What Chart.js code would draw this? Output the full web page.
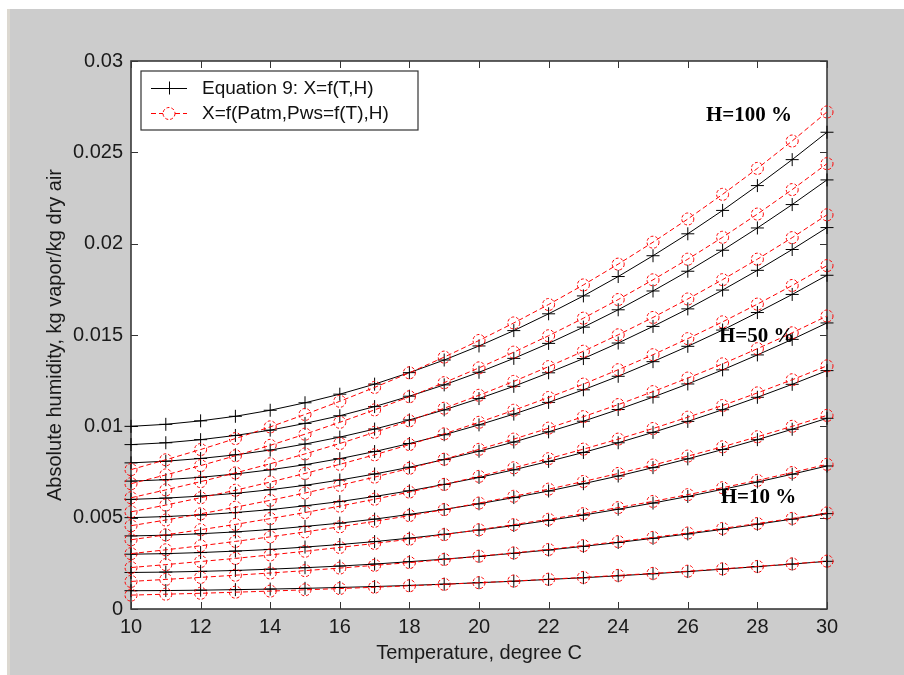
<!DOCTYPE html>
<html>
<head>
<meta charset="utf-8">
<script src="https://cdn.jsdelivr.net/npm/chart.js@4.4.1/dist/chart.umd.min.js"></script>
<style>
html,body{margin:0;padding:0;background:#ffffff;}
canvas{display:block;}
</style>
</head>
<body>
<canvas id="c" width="904" height="675"></canvas>
<script>
// ---- Data ----
const temperatures = [10,11,12,13,14,15,16,17,18,19,20,21,22,23,24,25,26,27,28,29,30];
const humidityLevels = [10,20,30,40,50,60,70,80,90,100];

// Equation 9: X=f(T,H)  (black, plus markers)
const eq9_H10  = [0.00100,0.00101,0.00103,0.00106,0.00109,0.00113,0.00118,0.00123,0.00129,0.00136,0.00144,0.00152,0.00162,0.00171,0.00182,0.00193,0.00205,0.00218,0.00232,0.00246,0.00261];
const eq9_H20  = [0.00200,0.00202,0.00206,0.00211,0.00218,0.00226,0.00235,0.00246,0.00259,0.00273,0.00288,0.00305,0.00323,0.00343,0.00364,0.00387,0.00411,0.00436,0.00464,0.00492,0.00522];
const eq9_H30  = [0.00300,0.00303,0.00309,0.00317,0.00326,0.00339,0.00353,0.00369,0.00388,0.00409,0.00432,0.00457,0.00485,0.00514,0.00546,0.00580,0.00616,0.00655,0.00695,0.00738,0.00783];
const eq9_H40  = [0.00400,0.00404,0.00412,0.00422,0.00435,0.00452,0.00470,0.00492,0.00518,0.00545,0.00576,0.00610,0.00646,0.00686,0.00728,0.00774,0.00822,0.00873,0.00927,0.00984,0.01044];
const eq9_H50  = [0.00500,0.00506,0.00515,0.00528,0.00544,0.00565,0.00588,0.00616,0.00647,0.00682,0.00720,0.00762,0.00808,0.00857,0.00910,0.00967,0.01027,0.01091,0.01159,0.01230,0.01305];
const eq9_H60  = [0.00600,0.00607,0.00618,0.00633,0.00653,0.00677,0.00706,0.00739,0.00776,0.00818,0.00864,0.00914,0.00970,0.01028,0.01092,0.01160,0.01232,0.01309,0.01391,0.01476,0.01566];
const eq9_H70  = [0.00700,0.00708,0.00721,0.00739,0.00762,0.00790,0.00823,0.00862,0.00906,0.00954,0.01008,0.01067,0.01131,0.01200,0.01274,0.01354,0.01438,0.01527,0.01623,0.01722,0.01827];
const eq9_H80  = [0.00800,0.00809,0.00824,0.00844,0.00870,0.00903,0.00941,0.00985,0.01035,0.01090,0.01152,0.01219,0.01293,0.01371,0.01456,0.01547,0.01643,0.01746,0.01854,0.01968,0.02088];
const eq9_H90  = [0.00900,0.00910,0.00927,0.00950,0.00979,0.01016,0.01058,0.01108,0.01165,0.01227,0.01296,0.01372,0.01454,0.01543,0.01638,0.01741,0.01849,0.01964,0.02086,0.02214,0.02349];
const eq9_H100 = [0.01000,0.01011,0.01030,0.01055,0.01088,0.01129,0.01176,0.01231,0.01294,0.01363,0.01440,0.01524,0.01616,0.01714,0.01820,0.01934,0.02054,0.02182,0.02318,0.02460,0.02610];

// X=f(Patm,Pws=f(T),H)  (red dashed, circle markers)
const psy_H10  = [0.00076,0.00081,0.00086,0.00092,0.00098,0.00105,0.00112,0.00119,0.00127,0.00135,0.00144,0.00153,0.00163,0.00173,0.00184,0.00195,0.00207,0.00220,0.00233,0.00247,0.00262];
const psy_H20  = [0.00151,0.00162,0.00173,0.00185,0.00197,0.00210,0.00224,0.00239,0.00254,0.00271,0.00289,0.00307,0.00326,0.00347,0.00369,0.00392,0.00416,0.00441,0.00468,0.00496,0.00526];
const psy_H30  = [0.00227,0.00243,0.00260,0.00277,0.00296,0.00316,0.00337,0.00359,0.00382,0.00407,0.00434,0.00462,0.00491,0.00522,0.00555,0.00589,0.00626,0.00664,0.00704,0.00747,0.00792];
const psy_H40  = [0.00303,0.00324,0.00346,0.00370,0.00395,0.00422,0.00450,0.00480,0.00511,0.00544,0.00580,0.00617,0.00656,0.00698,0.00742,0.00788,0.00837,0.00888,0.00943,0.01000,0.01060];
const psy_H50  = [0.00379,0.00406,0.00434,0.00463,0.00495,0.00528,0.00563,0.00601,0.00640,0.00682,0.00726,0.00773,0.00823,0.00875,0.00930,0.00988,0.01050,0.01114,0.01183,0.01255,0.01331];
const psy_H60  = [0.00456,0.00487,0.00521,0.00557,0.00595,0.00635,0.00677,0.00722,0.00770,0.00820,0.00874,0.00930,0.00990,0.01053,0.01119,0.01190,0.01264,0.01342,0.01425,0.01512,0.01604];
const psy_H70  = [0.00532,0.00569,0.00609,0.00650,0.00695,0.00742,0.00792,0.00844,0.00900,0.00959,0.01022,0.01088,0.01158,0.01231,0.01310,0.01392,0.01480,0.01572,0.01669,0.01771,0.01880];
const psy_H80  = [0.00609,0.00652,0.00697,0.00745,0.00795,0.00849,0.00906,0.00967,0.01030,0.01099,0.01170,0.01246,0.01327,0.01411,0.01501,0.01596,0.01697,0.01803,0.01915,0.02033,0.02158];
const psy_H90  = [0.00686,0.00734,0.00785,0.00839,0.00896,0.00957,0.01022,0.01090,0.01162,0.01239,0.01320,0.01406,0.01496,0.01592,0.01694,0.01802,0.01915,0.02035,0.02162,0.02296,0.02438];
const psy_H100 = [0.00763,0.00817,0.00873,0.00933,0.00997,0.01065,0.01137,0.01213,0.01293,0.01379,0.01470,0.01566,0.01667,0.01774,0.01888,0.02008,0.02135,0.02270,0.02412,0.02562,0.02721];

const yTickLabels = ['0','0.005','0.01','0.015','0.02','0.025','0.03'];
const xTickLabels = ['10','12','14','16','18','20','22','24','26','28','30'];
const legendLabels = ['Equation 9: X=f(T,H)', 'X=f(Patm,Pws=f(T),H)'];
const curveLabels = ['H=100 %', 'H=50 %', 'H=10 %'];
const curveLabelT = [27.76, 27.98, 28.03];
const curveLabelX = [0.0270, 0.0149, 0.0061];
const xAxisTitle = 'Temperature, degree C';
const yAxisTitle = 'Absolute humidity, kg vapor/kg dry air';

// ---- Build datasets ----
const eq9Series = [eq9_H10,eq9_H20,eq9_H30,eq9_H40,eq9_H50,eq9_H60,eq9_H70,eq9_H80,eq9_H90,eq9_H100];
const psySeries = [psy_H10,psy_H20,psy_H30,psy_H40,psy_H50,psy_H60,psy_H70,psy_H80,psy_H90,psy_H100];
const toPoints = vals => temperatures.map((t,i) => ({x:t, y:vals[i]}));

const FONT = '"Liberation Sans", Arial, Helvetica, sans-serif';
const RED = '#ff0000';

const datasets = [];
eq9Series.forEach((s,k) => datasets.push({
  label: legendLabels[0] + ' H=' + humidityLevels[k],
  kind: 'eq9',
  data: toPoints(s),
  showLine: true,
  borderColor: '#000000',
  borderWidth: 1,
  pointStyle: 'cross',
  pointRadius: 6.5,
  pointBorderColor: '#000000',
  pointBorderWidth: 1,
  pointBackgroundColor: 'rgba(0,0,0,0)',
  tension: 0,
  order: 2
}));
psySeries.forEach((s,k) => datasets.push({
  label: legendLabels[1] + ' H=' + humidityLevels[k],
  kind: 'psy',
  data: toPoints(s),
  showLine: true,
  borderColor: RED,
  borderWidth: 1,
  borderDash: [5,3],
  pointStyle: 'circle',
  pointRadius: 6,
  pointBorderColor: RED,
  pointBorderWidth: 1,
  pointBackgroundColor: 'rgba(0,0,0,0)',
  tension: 0,
  order: 1
}));

// ---- Plugins ----
const frame = {
  id: 'frame',
  beforeDraw(chart) {
    const ctx = chart.ctx, W = chart.width, H = chart.height, a = chart.chartArea;
    ctx.save();
    ctx.fillStyle = '#ffffff';
    ctx.fillRect(0,0,W,H);
    ctx.fillStyle = '#cccccc';
    ctx.fillRect(10,9,W-10,H-9);
    ctx.fillStyle = '#dcd8d0';
    ctx.fillRect(7,9,3,H-9);
    ctx.fillStyle = '#ffffff';
    ctx.fillRect(a.left,a.top,a.right-a.left,a.bottom-a.top);
    ctx.restore();
  },
  beforeDatasetsDraw(chart) {
    const ctx = chart.ctx, a = chart.chartArea;
    const xs = chart.scales.x, ys = chart.scales.y;
    const TL = 7;
    ctx.save();
    ctx.strokeStyle = '#333333';
    ctx.lineWidth = 1;
    ctx.beginPath();
    xs.ticks.forEach(t => {
      const px = Math.round(xs.getPixelForValue(t.value)) + 0.5;
      ctx.moveTo(px, a.bottom); ctx.lineTo(px, a.bottom - TL);
      ctx.moveTo(px, a.top); ctx.lineTo(px, a.top + TL);
    });
    ys.ticks.forEach(t => {
      const py = Math.round(ys.getPixelForValue(t.value)) + 0.5;
      ctx.moveTo(a.left, py); ctx.lineTo(a.left + TL, py);
      ctx.moveTo(a.right, py); ctx.lineTo(a.right - TL, py);
    });
    ctx.stroke();
    ctx.lineWidth = 1.6;
    ctx.strokeStyle = '#3a3a3a';
    ctx.strokeRect(a.left, a.top, a.right-a.left, a.bottom-a.top);
    ctx.restore();
  },
  beforeDatasetDraw(chart, args) {
    const ds = chart.data.datasets[args.index];
    if (ds.kind === 'psy') chart.ctx.setLineDash([3,2]);
  },
  afterDatasetDraw(chart) {
    chart.ctx.setLineDash([]);
  },
  afterDraw(chart) {
    const ctx = chart.ctx, a = chart.chartArea;
    const xs = chart.scales.x, ys = chart.scales.y;
    ctx.save();
    // Curve annotations
    ctx.fillStyle = '#000000';
    ctx.font = 'bold 21px "Liberation Serif", "Times New Roman", serif';
    ctx.textAlign = 'center';
    ctx.textBaseline = 'middle';
    curveLabels.forEach((txt,i) => {
      ctx.fillText(txt, xs.getPixelForValue(curveLabelT[i]), ys.getPixelForValue(curveLabelX[i]));
    });
    // Legend box
    const bx = a.left + 10, by = a.top + 10, bw = 277, bh = 59;
    ctx.fillStyle = '#ffffff';
    ctx.fillRect(bx, by, bw, bh);
    ctx.strokeStyle = '#333333';
    ctx.lineWidth = 1.2;
    ctx.strokeRect(bx, by, bw, bh);
    const r1 = by + 17, r2 = by + 42;
    const lx0 = bx + 10, lx1 = bx + 46, lxm = (lx0 + lx1)/2;
    // row 1
    ctx.strokeStyle = '#000000';
    ctx.lineWidth = 1;
    ctx.beginPath(); ctx.moveTo(lx0, r1+0.5); ctx.lineTo(lx1, r1+0.5); ctx.stroke();
    ctx.beginPath(); ctx.moveTo(lxm+0.5, r1-6.5); ctx.lineTo(lxm+0.5, r1+6.5); ctx.stroke();
    // row 2
    ctx.strokeStyle = RED;
    ctx.setLineDash([5,3]);
    ctx.beginPath(); ctx.moveTo(lx0, r2+0.5); ctx.lineTo(lxm-6, r2+0.5); ctx.moveTo(lxm+6, r2+0.5); ctx.lineTo(lx1, r2+0.5); ctx.stroke();
    ctx.setLineDash([3,2]);
    ctx.beginPath(); ctx.arc(lxm, r2+0.5, 6, 0, Math.PI*2); ctx.stroke();
    ctx.setLineDash([]);
    ctx.fillStyle = '#111111';
    ctx.font = '19px ' + FONT;
    ctx.textAlign = 'left';
    ctx.textBaseline = 'middle';
    ctx.fillText(legendLabels[0], bx + 61, r1 + 1);
    ctx.fillText(legendLabels[1], bx + 61, r2 + 1);
    ctx.restore();
  }
};

new Chart(document.getElementById('c'), {
  type: 'scatter',
  data: { datasets },
  options: {
    responsive: false,
    animation: false,
    devicePixelRatio: 1,
    clip: false,
    layout: { padding: { left: 0, top: 61, right: 77, bottom: 0 } },
    plugins: { legend: { display: false }, tooltip: { enabled: false } },
    scales: {
      x: {
        type: 'linear', min: 10, max: 30,
        grid: { display: false, drawTicks: false },
        border: { display: false },
        ticks: {
          stepSize: 2, padding: 6, color: '#1a1a1a',
          font: { family: FONT, size: 20 },
          maxRotation: 0, autoSkip: false,
          callback: (v, i) => xTickLabels[i]
        },
        title: { display: true, text: xAxisTitle, color: '#1a1a1a',
          font: { family: FONT, size: 20 }, padding: { top: 0, bottom: 10 } },
        afterFit: s => { s.height = 66; }
      },
      y: {
        type: 'linear', min: 0, max: 0.03,
        grid: { display: false, drawTicks: false },
        border: { display: false },
        ticks: {
          stepSize: 0.005, padding: 8, color: '#1a1a1a',
          font: { family: FONT, size: 20 },
          autoSkip: false,
          callback: (v, i) => yTickLabels[i]
        },
        title: { display: true, text: yAxisTitle, color: '#1a1a1a',
          font: { family: FONT, size: 20 }, padding: { top: 43, bottom: 0 } },
        afterFit: s => { s.width = 131; }
      }
    }
  },
  plugins: [frame]
});
</script>
</body>
</html>
